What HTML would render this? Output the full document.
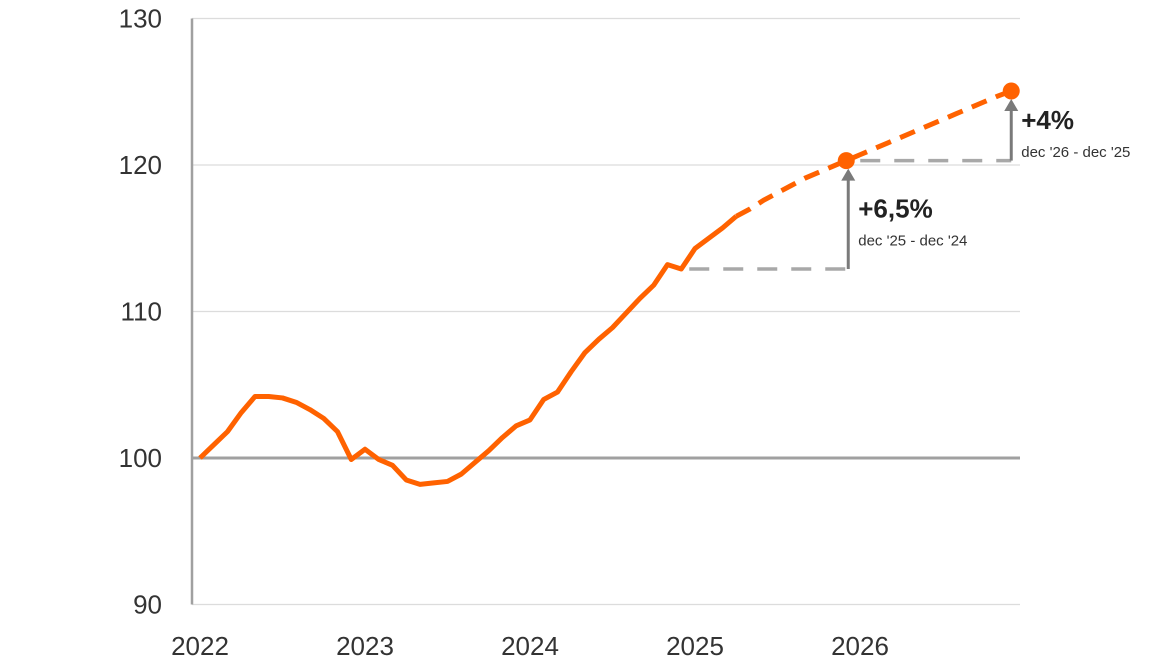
<!DOCTYPE html>
<html><head><meta charset="utf-8"><style>
body{margin:0;background:#fff;}
svg{display:block;font-family:"Liberation Sans",sans-serif;}
</style></head><body>
<svg id="chart" width="1175" height="661" viewBox="0 0 1175 661"></svg>
<script>
const yTicks=[90,100,110,120,130];
const xYears=["2022","2023","2024","2025","2026"];
const actual=[100,100.9,101.8,103.1,104.2,104.2,104.1,103.8,103.3,102.7,101.8,99.9,100.6,99.9,99.5,98.5,98.2,98.3,98.4,98.9,99.7,100.5,101.4,102.2,102.6,104.0,104.5,105.9,107.2,108.1,108.9,109.9,110.9,111.8,113.2,112.9,114.3,115.0,115.7,116.5];
const forecast=[116.5,117.0,117.6,118.1,118.6,119.1,119.5,119.9,120.3,120.7,121.1,121.5,121.9,122.3,122.7,123.1,123.5,123.9,124.3,124.7,125.05];
const forecastStart=39;
const markers=[{i:47,label:"+6,5%",sub:"dec '25 - dec '24",from:35},{i:59,label:"+4%",sub:"dec '26 - dec '25",from:47}];
const NS="http://www.w3.org/2000/svg";
const svg=document.getElementById('chart');
const X=i=>200+13.75*i;
const Y=v=>458-(v-100)*14.65;
const val=i=>i<actual.length?actual[i]:forecast[i-forecastStart];
function mk(tag,attrs,parent){const e=document.createElementNS(NS,tag);for(const k in attrs)e.setAttribute(k,attrs[k]);(parent||svg).appendChild(e);return e;}
yTicks.forEach(t=>{
  const g=mk('line',{x1:192,x2:1020,y1:Y(t),y2:Y(t),stroke:t===100?'#a0a0a0':'#dcdcdc','stroke-width':t===100?3:1.2});
  
  
  const tx=mk('text',{x:162,y:Y(t)+9,'text-anchor':'end','font-size':26,fill:'#333'});tx.textContent=t;
  
  
});
const ax=mk('line',{x1:192,x2:192,y1:Y(130),y2:Y(90),stroke:'#a0a0a0','stroke-width':2.5});


xYears.forEach((yr,k)=>{
  const tx=mk('text',{x:X(k*12),y:655,'text-anchor':'middle','font-size':26,fill:'#333'});tx.textContent=yr;
  
  
});
// reference dashed lines + arrows
markers.forEach((m,k)=>{
  const x0=X(m.from)+(k===0?8:14), x1=X(m.i)+(k===0?2:0);
  const l=mk('line',{x1:x0,x2:x1,y1:Y(val(m.from)),y2:Y(val(m.from)),stroke:'#a8a8a8','stroke-width':3.5,'stroke-dasharray':'20 14'});
  
  
  const a=mk('line',{x1:x1,x2:x1,y1:Y(val(m.from)),y2:Y(val(m.i))+18,stroke:'#7a7a7a','stroke-width':3});
  
  
  const h=mk('path',{d:`M${x1-7},${Y(val(m.i))+20} L${x1},${Y(val(m.i))+8} L${x1+7},${Y(val(m.i))+20}Z`,fill:'#7a7a7a'});
  
  
  const lx=x1+10, ly=Y(val(m.i))+(k===0?57:38);
  const t1=mk('text',{x:lx,y:ly,'font-size':26,'font-weight':'bold',fill:'#222'});t1.textContent=m.label;
  
  
  const t2=mk('text',{x:lx,y:ly+28,'font-size':15,fill:'#333'});t2.textContent=m.sub;
  
  
});
const p1=mk('polyline',{points:actual.map((v,i)=>X(i)+','+Y(v)).join(' '),fill:'none',stroke:'#ff6200','stroke-width':5,'stroke-linejoin':'round'});


const p2=mk('polyline',{points:forecast.map((v,i)=>X(i+forecastStart)+','+Y(v)).join(' '),fill:'none',stroke:'#ff6200','stroke-width':5,'stroke-dasharray':'16 10'});


markers.forEach((m,k)=>{
  const c=mk('circle',{cx:X(m.i),cy:Y(val(m.i)),r:8.5,fill:'#ff6200'});
  
  
});
</script>
</body></html>
